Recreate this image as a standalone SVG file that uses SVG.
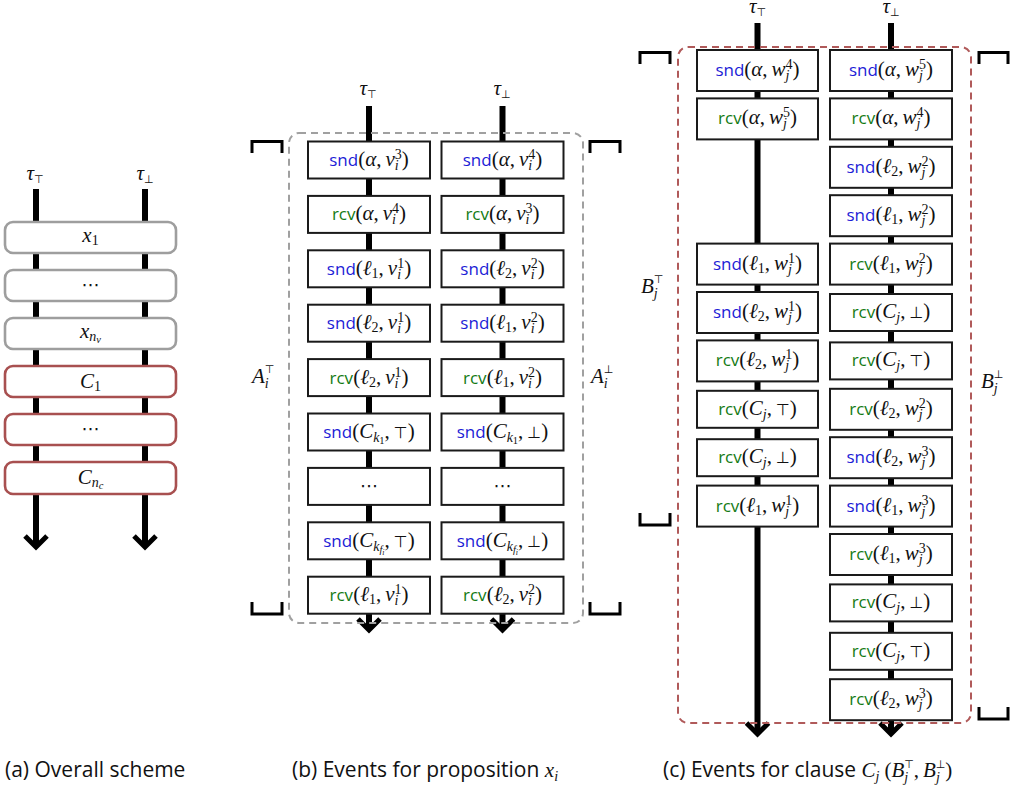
<svg xmlns="http://www.w3.org/2000/svg" width="1018" height="792" viewBox="0 0 1018 792">
<style>
.bg{fill:#fff}
.bx{fill:#fff;stroke:#1a1a1a;stroke-width:2}
.ga{fill:#fff;stroke:#9e9e9e;stroke-width:2.6}
.ra{fill:#fff;stroke:#a85050;stroke-width:2.6}
.ln{stroke:#000;stroke-width:6;fill:none;marker-end:url(#ah)}
.br{stroke:#000;stroke-width:3;fill:none}
.fg{fill:none;stroke:#a0a0a0;stroke-width:2;stroke-dasharray:7 5}
.fr{fill:none;stroke:#b05a5a;stroke-width:2;stroke-dasharray:7 5}
.t{font-family:"Liberation Serif","DejaVu Serif",serif;font-size:21px;font-style:italic;text-anchor:middle;fill:#111}
.l{font-family:"Liberation Serif","DejaVu Serif",serif;font-size:21px;font-style:italic;fill:#111}
.u{font-style:normal}
.s{font-size:14px}
.ss{font-size:10.5px}
.sss{font-size:8px}
.fn{font-family:"Open Sans",sans-serif;font-style:normal;font-size:17px}
.b{fill:#1c1cd6}
.g{fill:#137a13}
.tb{font-family:"DejaVu Sans",sans-serif;font-style:normal;font-size:16px}
.ts{font-family:"DejaVu Sans",sans-serif;font-style:normal;font-size:11px}
.dots{font-family:"DejaVu Sans",sans-serif;font-style:normal;font-size:18px}
.cap{font-family:"Open Sans",sans-serif;font-size:21px;fill:#111}
.cm{font-family:"Liberation Serif","DejaVu Serif",serif;font-style:italic;font-size:21px}
.cmu{font-family:"Liberation Serif","DejaVu Serif",serif;font-style:normal;font-size:21px}
.cms{font-family:"Liberation Serif","DejaVu Serif",serif;font-style:italic;font-size:14px}
</style>
<defs>
<marker id="ah" markerUnits="userSpaceOnUse" viewBox="-20 -20 40 40" markerWidth="40" markerHeight="40" refX="-3" refY="0" orient="auto" overflow="visible"><path d="M-11,-11 L0,0 L-11,11" fill="none" stroke="#000" stroke-width="5"/></marker>
</defs>
<rect class="bg" x="0" y="0" width="1018" height="792"/>

<g id="connectors">
<line class="ln" x1="36" y1="189" x2="36" y2="544"/>
<line class="ln" x1="145" y1="189" x2="145" y2="544"/>
<line class="ln" x1="369" y1="106" x2="369" y2="627"/>
<line class="ln" x1="502.5" y1="106" x2="502.5" y2="627"/>
<line class="ln" x1="757.5" y1="23" x2="757.5" y2="731"/>
<line class="ln" x1="891" y1="23" x2="891" y2="731"/>
</g>

<g id="thread-labels">
<text class="t" x="35" y="180">τ<tspan class="ts" dy="3">⊤</tspan></text>
<text class="t" x="145" y="180">τ<tspan class="ts" dy="3">⊥</tspan></text>
<text class="t" x="368" y="95">τ<tspan class="ts" dy="3">⊤</tspan></text>
<text class="t" x="502" y="95">τ<tspan class="ts" dy="3">⊥</tspan></text>
<text class="t" x="757.5" y="13">τ<tspan class="ts" dy="3">⊤</tspan></text>
<text class="t" x="891" y="13">τ<tspan class="ts" dy="3">⊥</tspan></text>
</g>

<!-- (a) -->
<g id="a-x1"><rect class="ga" x="5" y="222" width="171" height="31" rx="8"/><text class="t" x="90.5" y="242">x<tspan class="s u" dy="3">1</tspan></text></g>
<g id="a-xdots"><rect class="ga" x="5" y="270" width="171" height="31" rx="8"/><text class="t" x="90.5" y="291"><tspan class="dots">⋯</tspan></text></g>
<g id="a-xnv"><rect class="ga" x="5" y="318" width="171" height="31" rx="8"/><text class="t" x="90.5" y="338">x<tspan class="s" dy="3">n</tspan><tspan class="ss" dy="2">v</tspan></text></g>
<g id="a-c1"><rect class="ra" x="5" y="366" width="171" height="31" rx="8"/><text class="t" x="90.5" y="388">C<tspan class="s u" dy="3">1</tspan></text></g>
<g id="a-cdots"><rect class="ra" x="5" y="414" width="171" height="31" rx="8"/><text class="t" x="90.5" y="435"><tspan class="dots">⋯</tspan></text></g>
<g id="a-cnc"><rect class="ra" x="5" y="462" width="171" height="32" rx="8"/><text class="t" x="90.5" y="484">C<tspan class="s" dy="3">n</tspan><tspan class="ss" dy="2">c</tspan></text></g>

<!-- (b) -->
<g id="b-L0"><rect class="bx" x="308" y="141.5" width="122" height="37"/><text class="t" x="369" y="166"><tspan class="fn b">snd</tspan><tspan class="u">(</tspan>α<tspan class="u">,</tspan><tspan dx="4">v</tspan><tspan class="s" dy="4">i</tspan><tspan class="s u" dx="-3.9" dy="-11">3</tspan><tspan class="u" dy="7">)</tspan></text></g>
<g id="b-R0"><rect class="bx" x="441.5" y="141.5" width="122" height="37"/><text class="t" x="502.5" y="166"><tspan class="fn b">snd</tspan><tspan class="u">(</tspan>α<tspan class="u">,</tspan><tspan dx="4">v</tspan><tspan class="s" dy="4">i</tspan><tspan class="s u" dx="-3.9" dy="-11">4</tspan><tspan class="u" dy="7">)</tspan></text></g>
<g id="b-L1"><rect class="bx" x="308" y="195.9" width="122" height="37"/><text class="t" x="369" y="220.4"><tspan class="fn g">rcv</tspan><tspan class="u">(</tspan>α<tspan class="u">,</tspan><tspan dx="4">v</tspan><tspan class="s" dy="4">i</tspan><tspan class="s u" dx="-3.9" dy="-11">4</tspan><tspan class="u" dy="7">)</tspan></text></g>
<g id="b-R1"><rect class="bx" x="441.5" y="195.9" width="122" height="37"/><text class="t" x="502.5" y="220.4"><tspan class="fn g">rcv</tspan><tspan class="u">(</tspan>α<tspan class="u">,</tspan><tspan dx="4">v</tspan><tspan class="s" dy="4">i</tspan><tspan class="s u" dx="-3.9" dy="-11">3</tspan><tspan class="u" dy="7">)</tspan></text></g>
<g id="b-L2"><rect class="bx" x="308" y="250.3" width="122" height="37"/><text class="t" x="369" y="274.8"><tspan class="fn b">snd</tspan><tspan class="u">(</tspan>ℓ<tspan class="s u" dy="3">1</tspan><tspan class="u" dy="-3">,</tspan><tspan dx="4">v</tspan><tspan class="s" dy="4">i</tspan><tspan class="s u" dx="-3.9" dy="-11">1</tspan><tspan class="u" dy="7">)</tspan></text></g>
<g id="b-R2"><rect class="bx" x="441.5" y="250.3" width="122" height="37"/><text class="t" x="502.5" y="274.8"><tspan class="fn b">snd</tspan><tspan class="u">(</tspan>ℓ<tspan class="s u" dy="3">2</tspan><tspan class="u" dy="-3">,</tspan><tspan dx="4">v</tspan><tspan class="s" dy="4">i</tspan><tspan class="s u" dx="-3.9" dy="-11">2</tspan><tspan class="u" dy="7">)</tspan></text></g>
<g id="b-L3"><rect class="bx" x="308" y="304.7" width="122" height="37"/><text class="t" x="369" y="329.2"><tspan class="fn b">snd</tspan><tspan class="u">(</tspan>ℓ<tspan class="s u" dy="3">2</tspan><tspan class="u" dy="-3">,</tspan><tspan dx="4">v</tspan><tspan class="s" dy="4">i</tspan><tspan class="s u" dx="-3.9" dy="-11">1</tspan><tspan class="u" dy="7">)</tspan></text></g>
<g id="b-R3"><rect class="bx" x="441.5" y="304.7" width="122" height="37"/><text class="t" x="502.5" y="329.2"><tspan class="fn b">snd</tspan><tspan class="u">(</tspan>ℓ<tspan class="s u" dy="3">1</tspan><tspan class="u" dy="-3">,</tspan><tspan dx="4">v</tspan><tspan class="s" dy="4">i</tspan><tspan class="s u" dx="-3.9" dy="-11">2</tspan><tspan class="u" dy="7">)</tspan></text></g>
<g id="b-L4"><rect class="bx" x="308" y="359.1" width="122" height="37"/><text class="t" x="369" y="383.6"><tspan class="fn g">rcv</tspan><tspan class="u">(</tspan>ℓ<tspan class="s u" dy="3">2</tspan><tspan class="u" dy="-3">,</tspan><tspan dx="4">v</tspan><tspan class="s" dy="4">i</tspan><tspan class="s u" dx="-3.9" dy="-11">1</tspan><tspan class="u" dy="7">)</tspan></text></g>
<g id="b-R4"><rect class="bx" x="441.5" y="359.1" width="122" height="37"/><text class="t" x="502.5" y="383.6"><tspan class="fn g">rcv</tspan><tspan class="u">(</tspan>ℓ<tspan class="s u" dy="3">1</tspan><tspan class="u" dy="-3">,</tspan><tspan dx="4">v</tspan><tspan class="s" dy="4">i</tspan><tspan class="s u" dx="-3.9" dy="-11">2</tspan><tspan class="u" dy="7">)</tspan></text></g>
<g id="b-L5"><rect class="bx" x="308" y="413.5" width="122" height="37"/><text class="t" x="369" y="438"><tspan class="fn b">snd</tspan><tspan class="u">(</tspan>C<tspan class="s" dy="4">k</tspan><tspan class="ss u" dy="2">1</tspan><tspan class="u" dy="-6">,</tspan><tspan class="tb" dx="4">⊤</tspan><tspan class="u">)</tspan></text></g>
<g id="b-R5"><rect class="bx" x="441.5" y="413.5" width="122" height="37"/><text class="t" x="502.5" y="438"><tspan class="fn b">snd</tspan><tspan class="u">(</tspan>C<tspan class="s" dy="4">k</tspan><tspan class="ss u" dy="2">1</tspan><tspan class="u" dy="-6">,</tspan><tspan class="tb" dx="4">⊥</tspan><tspan class="u">)</tspan></text></g>
<g id="b-L6"><rect class="bx" x="308" y="467.9" width="122" height="37"/><text class="t" x="369" y="492.4"><tspan class="dots">⋯</tspan></text></g>
<g id="b-R6"><rect class="bx" x="441.5" y="467.9" width="122" height="37"/><text class="t" x="502.5" y="492.4"><tspan class="dots">⋯</tspan></text></g>
<g id="b-L7"><rect class="bx" x="308" y="522.3" width="122" height="37"/><text class="t" x="369" y="546.8"><tspan class="fn b">snd</tspan><tspan class="u">(</tspan>C<tspan class="s" dy="4">k</tspan><tspan class="ss" dy="2.5">f</tspan><tspan class="sss" dy="2">i</tspan><tspan class="u" dy="-8.5">,</tspan><tspan class="tb" dx="4">⊤</tspan><tspan class="u">)</tspan></text></g>
<g id="b-R7"><rect class="bx" x="441.5" y="522.3" width="122" height="37"/><text class="t" x="502.5" y="546.8"><tspan class="fn b">snd</tspan><tspan class="u">(</tspan>C<tspan class="s" dy="4">k</tspan><tspan class="ss" dy="2.5">f</tspan><tspan class="sss" dy="2">i</tspan><tspan class="u" dy="-8.5">,</tspan><tspan class="tb" dx="4">⊥</tspan><tspan class="u">)</tspan></text></g>
<g id="b-L8"><rect class="bx" x="308" y="576.7" width="122" height="37"/><text class="t" x="369" y="601.2"><tspan class="fn g">rcv</tspan><tspan class="u">(</tspan>ℓ<tspan class="s u" dy="3">1</tspan><tspan class="u" dy="-3">,</tspan><tspan dx="4">v</tspan><tspan class="s" dy="4">i</tspan><tspan class="s u" dx="-3.9" dy="-11">1</tspan><tspan class="u" dy="7">)</tspan></text></g>
<g id="b-R8"><rect class="bx" x="441.5" y="576.7" width="122" height="37"/><text class="t" x="502.5" y="601.2"><tspan class="fn g">rcv</tspan><tspan class="u">(</tspan>ℓ<tspan class="s u" dy="3">2</tspan><tspan class="u" dy="-3">,</tspan><tspan dx="4">v</tspan><tspan class="s" dy="4">i</tspan><tspan class="s u" dx="-3.9" dy="-11">2</tspan><tspan class="u" dy="7">)</tspan></text></g>

<g id="b-frame">
<rect class="fg" x="289" y="133" width="294" height="490" rx="10"/>
<path class="br" d="M252,153 V141.5 H282 V153"/>
<path class="br" d="M590,153 V141.5 H620 V153"/>
<path class="br" d="M252,602 V614 H282 V602"/>
<path class="br" d="M590,602 V614 H620 V602"/>
<text class="l" x="252" y="383">A<tspan class="s" dy="5">i</tspan><tspan class="ts" dx="-3.9" dy="-15">⊤</tspan></text>
<text class="l" x="591" y="383">A<tspan class="s" dy="5">i</tspan><tspan class="ts" dx="-3.9" dy="-15">⊥</tspan></text>
</g>

<!-- (c) left column -->
<g id="c-L0"><rect class="bx" x="697" y="50" width="121" height="41"/><text class="t" x="757.5" y="76"><tspan class="fn b">snd</tspan><tspan class="u">(</tspan>α<tspan class="u">,</tspan><tspan dx="4">w</tspan><tspan class="s" dy="4">j</tspan><tspan class="s u" dx="-3.9" dy="-11">4</tspan><tspan class="u" dy="7">)</tspan></text></g>
<g id="c-L1"><rect class="bx" x="697" y="98.4" width="121" height="41"/><text class="t" x="757.5" y="124.4"><tspan class="fn g">rcv</tspan><tspan class="u">(</tspan>α<tspan class="u">,</tspan><tspan dx="4">w</tspan><tspan class="s" dy="4">j</tspan><tspan class="s u" dx="-3.9" dy="-11">5</tspan><tspan class="u" dy="7">)</tspan></text></g>
<g id="c-L4"><rect class="bx" x="697" y="243.6" width="121" height="41"/><text class="t" x="757.5" y="269.6"><tspan class="fn b">snd</tspan><tspan class="u">(</tspan>ℓ<tspan class="s u" dy="3">1</tspan><tspan class="u" dy="-3">,</tspan><tspan dx="4">w</tspan><tspan class="s" dy="4">j</tspan><tspan class="s u" dx="-3.9" dy="-11">1</tspan><tspan class="u" dy="7">)</tspan></text></g>
<g id="c-L5"><rect class="bx" x="697" y="292" width="121" height="41"/><text class="t" x="757.5" y="318"><tspan class="fn b">snd</tspan><tspan class="u">(</tspan>ℓ<tspan class="s u" dy="3">2</tspan><tspan class="u" dy="-3">,</tspan><tspan dx="4">w</tspan><tspan class="s" dy="4">j</tspan><tspan class="s u" dx="-3.9" dy="-11">1</tspan><tspan class="u" dy="7">)</tspan></text></g>
<g id="c-L6"><rect class="bx" x="697" y="340.4" width="121" height="41"/><text class="t" x="757.5" y="366.4"><tspan class="fn g">rcv</tspan><tspan class="u">(</tspan>ℓ<tspan class="s u" dy="3">2</tspan><tspan class="u" dy="-3">,</tspan><tspan dx="4">w</tspan><tspan class="s" dy="4">j</tspan><tspan class="s u" dx="-3.9" dy="-11">1</tspan><tspan class="u" dy="7">)</tspan></text></g>
<g id="c-L7"><rect class="bx" x="697" y="390.8" width="121" height="37"/><text class="t" x="757.5" y="414.8"><tspan class="fn g">rcv</tspan><tspan class="u">(</tspan>C<tspan class="s" dy="4">j</tspan><tspan class="u" dy="-4">,</tspan><tspan class="tb" dx="4">⊤</tspan><tspan class="u">)</tspan></text></g>
<g id="c-L8"><rect class="bx" x="697" y="439.2" width="121" height="37"/><text class="t" x="757.5" y="463.2"><tspan class="fn g">rcv</tspan><tspan class="u">(</tspan>C<tspan class="s" dy="4">j</tspan><tspan class="u" dy="-4">,</tspan><tspan class="tb" dx="4">⊥</tspan><tspan class="u">)</tspan></text></g>
<g id="c-L9"><rect class="bx" x="697" y="485.6" width="121" height="41"/><text class="t" x="757.5" y="511.6"><tspan class="fn g">rcv</tspan><tspan class="u">(</tspan>ℓ<tspan class="s u" dy="3">1</tspan><tspan class="u" dy="-3">,</tspan><tspan dx="4">w</tspan><tspan class="s" dy="4">j</tspan><tspan class="s u" dx="-3.9" dy="-11">1</tspan><tspan class="u" dy="7">)</tspan></text></g>

<!-- (c) right column -->
<g id="c-R0"><rect class="bx" x="830" y="50" width="122" height="41"/><text class="t" x="891" y="76"><tspan class="fn b">snd</tspan><tspan class="u">(</tspan>α<tspan class="u">,</tspan><tspan dx="4">w</tspan><tspan class="s" dy="4">j</tspan><tspan class="s u" dx="-3.9" dy="-11">5</tspan><tspan class="u" dy="7">)</tspan></text></g>
<g id="c-R1"><rect class="bx" x="830" y="98.4" width="122" height="41"/><text class="t" x="891" y="124.4"><tspan class="fn g">rcv</tspan><tspan class="u">(</tspan>α<tspan class="u">,</tspan><tspan dx="4">w</tspan><tspan class="s" dy="4">j</tspan><tspan class="s u" dx="-3.9" dy="-11">4</tspan><tspan class="u" dy="7">)</tspan></text></g>
<g id="c-R2"><rect class="bx" x="830" y="146.8" width="122" height="41"/><text class="t" x="891" y="172.8"><tspan class="fn b">snd</tspan><tspan class="u">(</tspan>ℓ<tspan class="s u" dy="3">2</tspan><tspan class="u" dy="-3">,</tspan><tspan dx="4">w</tspan><tspan class="s" dy="4">j</tspan><tspan class="s u" dx="-3.9" dy="-11">2</tspan><tspan class="u" dy="7">)</tspan></text></g>
<g id="c-R3"><rect class="bx" x="830" y="195.2" width="122" height="41"/><text class="t" x="891" y="221.2"><tspan class="fn b">snd</tspan><tspan class="u">(</tspan>ℓ<tspan class="s u" dy="3">1</tspan><tspan class="u" dy="-3">,</tspan><tspan dx="4">w</tspan><tspan class="s" dy="4">j</tspan><tspan class="s u" dx="-3.9" dy="-11">2</tspan><tspan class="u" dy="7">)</tspan></text></g>
<g id="c-R4"><rect class="bx" x="830" y="243.6" width="122" height="41"/><text class="t" x="891" y="269.6"><tspan class="fn g">rcv</tspan><tspan class="u">(</tspan>ℓ<tspan class="s u" dy="3">1</tspan><tspan class="u" dy="-3">,</tspan><tspan dx="4">w</tspan><tspan class="s" dy="4">j</tspan><tspan class="s u" dx="-3.9" dy="-11">2</tspan><tspan class="u" dy="7">)</tspan></text></g>
<g id="c-R5"><rect class="bx" x="830" y="294" width="122" height="37"/><text class="t" x="891" y="318"><tspan class="fn g">rcv</tspan><tspan class="u">(</tspan>C<tspan class="s" dy="4">j</tspan><tspan class="u" dy="-4">,</tspan><tspan class="tb" dx="4">⊥</tspan><tspan class="u">)</tspan></text></g>
<g id="c-R6"><rect class="bx" x="830" y="342.4" width="122" height="37"/><text class="t" x="891" y="366.4"><tspan class="fn g">rcv</tspan><tspan class="u">(</tspan>C<tspan class="s" dy="4">j</tspan><tspan class="u" dy="-4">,</tspan><tspan class="tb" dx="4">⊤</tspan><tspan class="u">)</tspan></text></g>
<g id="c-R7"><rect class="bx" x="830" y="388.8" width="122" height="41"/><text class="t" x="891" y="414.8"><tspan class="fn g">rcv</tspan><tspan class="u">(</tspan>ℓ<tspan class="s u" dy="3">2</tspan><tspan class="u" dy="-3">,</tspan><tspan dx="4">w</tspan><tspan class="s" dy="4">j</tspan><tspan class="s u" dx="-3.9" dy="-11">2</tspan><tspan class="u" dy="7">)</tspan></text></g>
<g id="c-R8"><rect class="bx" x="830" y="437.2" width="122" height="41"/><text class="t" x="891" y="463.2"><tspan class="fn b">snd</tspan><tspan class="u">(</tspan>ℓ<tspan class="s u" dy="3">2</tspan><tspan class="u" dy="-3">,</tspan><tspan dx="4">w</tspan><tspan class="s" dy="4">j</tspan><tspan class="s u" dx="-3.9" dy="-11">3</tspan><tspan class="u" dy="7">)</tspan></text></g>
<g id="c-R9"><rect class="bx" x="830" y="485.6" width="122" height="41"/><text class="t" x="891" y="511.6"><tspan class="fn b">snd</tspan><tspan class="u">(</tspan>ℓ<tspan class="s u" dy="3">1</tspan><tspan class="u" dy="-3">,</tspan><tspan dx="4">w</tspan><tspan class="s" dy="4">j</tspan><tspan class="s u" dx="-3.9" dy="-11">3</tspan><tspan class="u" dy="7">)</tspan></text></g>
<g id="c-R10"><rect class="bx" x="830" y="534" width="122" height="41"/><text class="t" x="891" y="560"><tspan class="fn g">rcv</tspan><tspan class="u">(</tspan>ℓ<tspan class="s u" dy="3">1</tspan><tspan class="u" dy="-3">,</tspan><tspan dx="4">w</tspan><tspan class="s" dy="4">j</tspan><tspan class="s u" dx="-3.9" dy="-11">3</tspan><tspan class="u" dy="7">)</tspan></text></g>
<g id="c-R11"><rect class="bx" x="830" y="584.4" width="122" height="37"/><text class="t" x="891" y="608.4"><tspan class="fn g">rcv</tspan><tspan class="u">(</tspan>C<tspan class="s" dy="4">j</tspan><tspan class="u" dy="-4">,</tspan><tspan class="tb" dx="4">⊥</tspan><tspan class="u">)</tspan></text></g>
<g id="c-R12"><rect class="bx" x="830" y="632.8" width="122" height="37"/><text class="t" x="891" y="656.8"><tspan class="fn g">rcv</tspan><tspan class="u">(</tspan>C<tspan class="s" dy="4">j</tspan><tspan class="u" dy="-4">,</tspan><tspan class="tb" dx="4">⊤</tspan><tspan class="u">)</tspan></text></g>
<g id="c-R13"><rect class="bx" x="830" y="679.2" width="122" height="41"/><text class="t" x="891" y="705.2"><tspan class="fn g">rcv</tspan><tspan class="u">(</tspan>ℓ<tspan class="s u" dy="3">2</tspan><tspan class="u" dy="-3">,</tspan><tspan dx="4">w</tspan><tspan class="s" dy="4">j</tspan><tspan class="s u" dx="-3.9" dy="-11">3</tspan><tspan class="u" dy="7">)</tspan></text></g>

<g id="c-frame">
<rect class="fr" x="678" y="47" width="293" height="676" rx="10"/>
<path class="br" d="M640,64 V52.5 H670 V64"/>
<path class="br" d="M979,64 V52.5 H1008 V64"/>
<path class="br" d="M640,513 V525 H670 V513"/>
<path class="br" d="M979,707 V719 H1008 V707"/>
<text class="l" x="641" y="293">B<tspan class="s" dy="5">j</tspan><tspan class="ts" dx="-3.9" dy="-15">⊤</tspan></text>
<text class="l" x="981" y="388">B<tspan class="s" dy="5">j</tspan><tspan class="ts" dx="-3.9" dy="-15">⊥</tspan></text>
</g>

<g id="captions">
<text class="cap" x="5" y="777">(a) Overall scheme</text>
<text class="cap" x="292" y="777">(b) Events for proposition <tspan class="cm">x</tspan><tspan class="cms" dy="4">i</tspan></text>
<text class="cap" x="663" y="777">(c) Events for clause <tspan class="cm">C</tspan><tspan class="cms" dy="4">j</tspan><tspan class="cmu" dx="5" dy="-4">(</tspan><tspan class="cm">B</tspan><tspan class="cms" dy="5">j</tspan><tspan class="ts" dx="-4" dy="-14">⊤</tspan><tspan class="cmu" dy="9">,</tspan><tspan class="cm" dx="4">B</tspan><tspan class="cms" dy="5">j</tspan><tspan class="ts" dx="-4" dy="-14">⊥</tspan><tspan class="cmu" dy="9">)</tspan></text>
</g>
</svg>
